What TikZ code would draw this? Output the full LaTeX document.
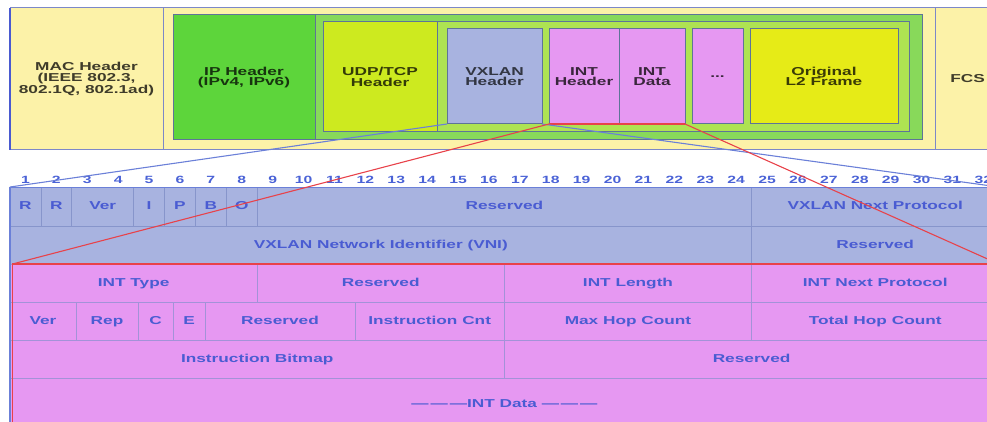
\documentclass[tikz,border=0pt]{standalone}
\usepackage{fontspec}
\newfontfamily\diafont{Liberation Sans}[FakeStretch=1.5]
\newcommand\dgTopFont{\diafont\bfseries\fontsize{11.5}{10.5}\selectfont}
\newcommand\dgCellFont{\diafont\bfseries\fontsize{11.5}{12}\selectfont}
\newcommand\dgNumFont{\diafont\bfseries\fontsize{10.5}{12}\selectfont}

\definecolor{paleyel}{HTML}{FCF2A8}
\definecolor{frameedge}{HTML}{7C88C8}
\definecolor{leftedge}{HTML}{4A5AD0}
\definecolor{boxedge}{HTML}{5E7498}
\definecolor{ipframe}{HTML}{88D95A}
\definecolor{udpframe}{HTML}{AEE352}
\definecolor{ipgreen}{HTML}{5DD53B}
\definecolor{udpgreen}{HTML}{CDEA1F}
\definecolor{vxfill}{HTML}{A8B3E0}
\definecolor{intfill}{HTML}{E698F2}
\definecolor{l2yel}{HTML}{E6EB17}
\definecolor{vxgrid}{HTML}{8795CB}
\definecolor{intgrid}{HTML}{A392D8}
\definecolor{tblblue}{HTML}{4A5CD2}
\definecolor{numblue}{HTML}{4A62D6}
\definecolor{connblue}{HTML}{6B80D8}
\definecolor{connred}{HTML}{E8424A}

% field box: name, x1, y1, x2, y2, style, text
\newcommand\fieldbox[7]{%
  \node[#6, anchor=north west, minimum width={(#4)-(#2)},
        minimum height={(#5)-(#3)}] (#1) at (#2,#3) {#7};}

\begin{document}
\begin{tikzpicture}[x=1pt,y=-1pt,
  topbox/.style={draw=boxedge, line width=1pt, align=center,
                 font=\dgTopFont, inner sep=0pt, outer sep=0pt},
  framebox/.style={draw=boxedge, line width=1pt, inner sep=0pt, outer sep=0pt},
  cellbase/.style={line width=0.8pt, text=tblblue, font=\dgCellFont,
                   inner sep=0pt, outer sep=0pt, text height=8.4pt, text depth=2.4pt},
  cellv/.style={cellbase, fill=vxfill, draw=vxgrid},
  celli/.style={cellbase, fill=intfill, draw=intgrid},
  bitnum/.style={text=numblue, font=\dgNumFont, inner sep=0pt},
  blueconn/.style={draw=connblue, line width=1.1pt},
  redconn/.style={draw=connred, line width=1.1pt},
]
\useasboundingbox (0,0) rectangle (987,422);
\clip (0,0) rectangle (987,422);

% ---------------- encapsulated frame ----------------
\fieldbox{frame}{10}{8}{1000}{150}{framebox, fill=paleyel, draw=frameedge}{}
\fieldbox{mac}{10}{8}{163}{150}{topbox, fill=paleyel, draw=frameedge, text=paleyel!25!black}{MAC Header\\(IEEE 802.3,\\802.1Q, 802.1ad)}
\fieldbox{fcs}{935}{8}{1000}{150}{topbox, fill=paleyel, draw=frameedge, text=paleyel!25!black}{FCS}
\draw[line width=2pt, leftedge] (mac.north west) -- (mac.south west);

\fieldbox{ipfr}{173}{15}{922}{140}{framebox, fill=ipframe}{}
\fieldbox{ip}{173}{15}{315}{140}{topbox, fill=ipgreen, text=ipgreen!25!black}{IP Header\\(IPv4, IPv6)}
\fieldbox{udpfr}{323}{22}{909}{132}{framebox, fill=udpframe}{}
\fieldbox{udp}{323}{22}{437}{132}{topbox, fill=udpgreen, text=udpgreen!25!black}{UDP/TCP\\Header}
\fieldbox{vx}{447}{29}{542}{124}{topbox, fill=vxfill, text=vxfill!30!black}{VXLAN\\Header}
\fieldbox{inth}{549}{29}{619}{124}{topbox, fill=intfill, text=intfill!25!black}{INT\\Header}
\fieldbox{intd}{619}{29}{685}{124}{topbox, fill=intfill, text=intfill!25!black}{INT\\Data}
\fieldbox{more}{692}{29}{743}{124}{topbox, fill=intfill, text=intfill!25!black}{...}
\fieldbox{l2}{750}{29}{898}{124}{topbox, fill=l2yel, text=l2yel!25!black}{Original\\L2 Frame}
\draw[redconn] (inth.south west) -- (intd.south east);

% ---------------- bit numbers ----------------
\foreach \i in {1,...,32}
  \node[bitnum] (bit\i) at ({10+30.9*(\i-0.5)},180) {\i};

% ---------------- VXLAN-GPE header ----------------
\fieldbox{vr1}{10}{187}{40.9}{226}{cellv}{R}
\fieldbox{vr2}{40.9}{187}{71.8}{226}{cellv}{R}
\fieldbox{vver}{71.8}{187}{133.6}{226}{cellv}{Ver}
\fieldbox{vi}{133.6}{187}{164.5}{226}{cellv}{I}
\fieldbox{vp}{164.5}{187}{195.4}{226}{cellv}{P}
\fieldbox{vb}{195.4}{187}{226.3}{226}{cellv}{B}
\fieldbox{vo}{226.3}{187}{257.2}{226}{cellv}{O}
\fieldbox{vres}{257.2}{187}{751.6}{226}{cellv}{Reserved}
\fieldbox{vnp}{751.6}{187}{998.8}{226}{cellv}{VXLAN Next Protocol}
\fieldbox{vni}{10}{226}{751.6}{264}{cellv}{VXLAN Network Identifier (VNI)}
\fieldbox{vres2}{751.6}{226}{998.8}{264}{cellv}{Reserved}

% ---------------- INT header ----------------
\fieldbox{inttype}{10}{264}{257.2}{302}{celli}{INT Type}
\fieldbox{ires1}{257.2}{264}{504.4}{302}{celli}{Reserved}
\fieldbox{ilen}{504.4}{264}{751.6}{302}{celli}{INT Length}
\fieldbox{intnext}{751.6}{264}{998.8}{302}{celli}{INT Next Protocol}
\fieldbox{iver}{10}{302}{76}{340}{celli}{Ver}
\fieldbox{irep}{76}{302}{138}{340}{celli}{Rep}
\fieldbox{ic}{138}{302}{173}{340}{celli}{C}
\fieldbox{ie}{173}{302}{205}{340}{celli}{E}
\fieldbox{ires2}{205}{302}{355}{340}{celli}{Reserved}
\fieldbox{icnt}{355}{302}{504.4}{340}{celli}{Instruction Cnt}
\fieldbox{imax}{504.4}{302}{751.6}{340}{celli}{Max Hop Count}
\fieldbox{itot}{751.6}{302}{998.8}{340}{celli}{Total Hop Count}
\fieldbox{ibmp}{10}{340}{504.4}{378}{celli}{Instruction Bitmap}
\fieldbox{ires3}{504.4}{340}{998.8}{378}{celli}{Reserved}
\fieldbox{intdata}{10}{378}{998.8}{430}{celli}{—\,—\,—INT Data —\,—\,—}

% outline of the INT part and left edge of the table
\draw[redconn] ([xshift=2.5pt]intdata.south west) -- ([xshift=2.5pt]inttype.north west) -- (intnext.north east);
\draw[line width=1.6pt, connblue] (vr1.north west) -- (intdata.south west);
\draw[line width=0.8pt, connblue] (vr1.north west) -- (vnp.north east);

% ---------------- zoom connectors ----------------
\draw[blueconn] (vx.south west) -- (vr1.north west);
\draw[blueconn] (vx.south east) -- (vnp.north east);
\draw[redconn] (inth.south west) -- ([xshift=2.5pt]inttype.north west);
\draw[redconn] (intd.south east) -- (intnext.north east);
\end{tikzpicture}
\end{document}
